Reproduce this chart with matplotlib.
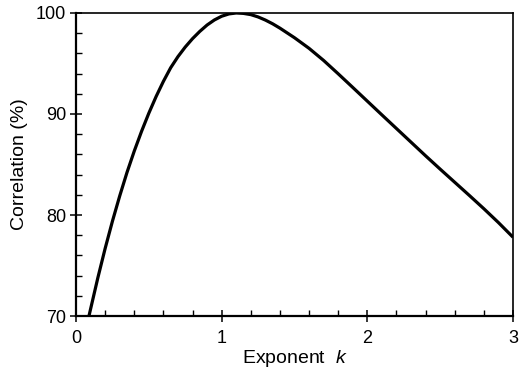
import matplotlib
matplotlib.use("Agg")
import matplotlib.pyplot as plt
from matplotlib.ticker import MultipleLocator

plt.rcParams['font.family'] = ['Liberation Sans', 'DejaVu Sans']
plt.rcParams['mathtext.fontset'] = 'custom'
plt.rcParams['mathtext.it'] = 'Liberation Sans:italic'
plt.rcParams['mathtext.rm'] = 'Liberation Sans'

# Correlation versus exponent k
exponent_k = [0.089, 0.15, 0.2, 0.25, 0.3, 0.35, 0.4, 0.45, 0.5, 0.55,
              0.6, 0.65, 0.7, 0.75, 0.8, 0.85, 0.9, 0.95, 1.0, 1.05,
              1.1, 1.15, 1.2, 1.25, 1.3, 1.35, 1.4, 1.5, 1.6, 1.7,
              1.8, 1.9, 2.0, 2.1, 2.2, 2.3, 2.4, 2.5, 2.6, 2.7,
              2.8, 2.9, 3.0]
correlation = [70.0, 73.78, 76.68, 79.38, 81.88, 84.21, 86.33, 88.28, 90.08, 91.73,
               93.23, 94.58, 95.68, 96.63, 97.46, 98.18, 98.81, 99.31, 99.68, 99.91,
               100.0, 99.96, 99.84, 99.61, 99.30, 98.93, 98.50, 97.55, 96.50, 95.30,
               93.98, 92.63, 91.27, 89.91, 88.56, 87.21, 85.86, 84.54, 83.24, 81.94,
               80.62, 79.25, 77.8]

fig = plt.figure(figsize=(5.23, 3.80), dpi=100)
ax = fig.add_axes([0.1453, 0.1684, 0.8356, 0.7974])

ax.plot(exponent_k, correlation, color='black', lw=2.3, solid_capstyle='butt',
        solid_joinstyle='round')

ax.set_xlim(0, 3)
ax.set_ylim(70, 100)
ax.xaxis.set_major_locator(MultipleLocator(1))
ax.xaxis.set_minor_locator(MultipleLocator(0.2))
ax.yaxis.set_major_locator(MultipleLocator(10))
ax.yaxis.set_minor_locator(MultipleLocator(2))

ax.tick_params(which='major', direction='inout', length=8, width=1.1,
               labelsize=13, pad=3, colors='black')
ax.tick_params(which='minor', direction='in', length=4, width=1.0)
ax.tick_params(axis='x', which='major', pad=6)

for side in ['left', 'bottom']:
    ax.spines[side].set_linewidth(1.6)
for side in ['top', 'right']:
    ax.spines[side].set_linewidth(1.2)

ax.set_xlabel('Exponent  $k$', fontsize=14, labelpad=1)
ax.set_ylabel('Correlation (%)', fontsize=14, labelpad=6)

fig.savefig('out.png', dpi=100)
